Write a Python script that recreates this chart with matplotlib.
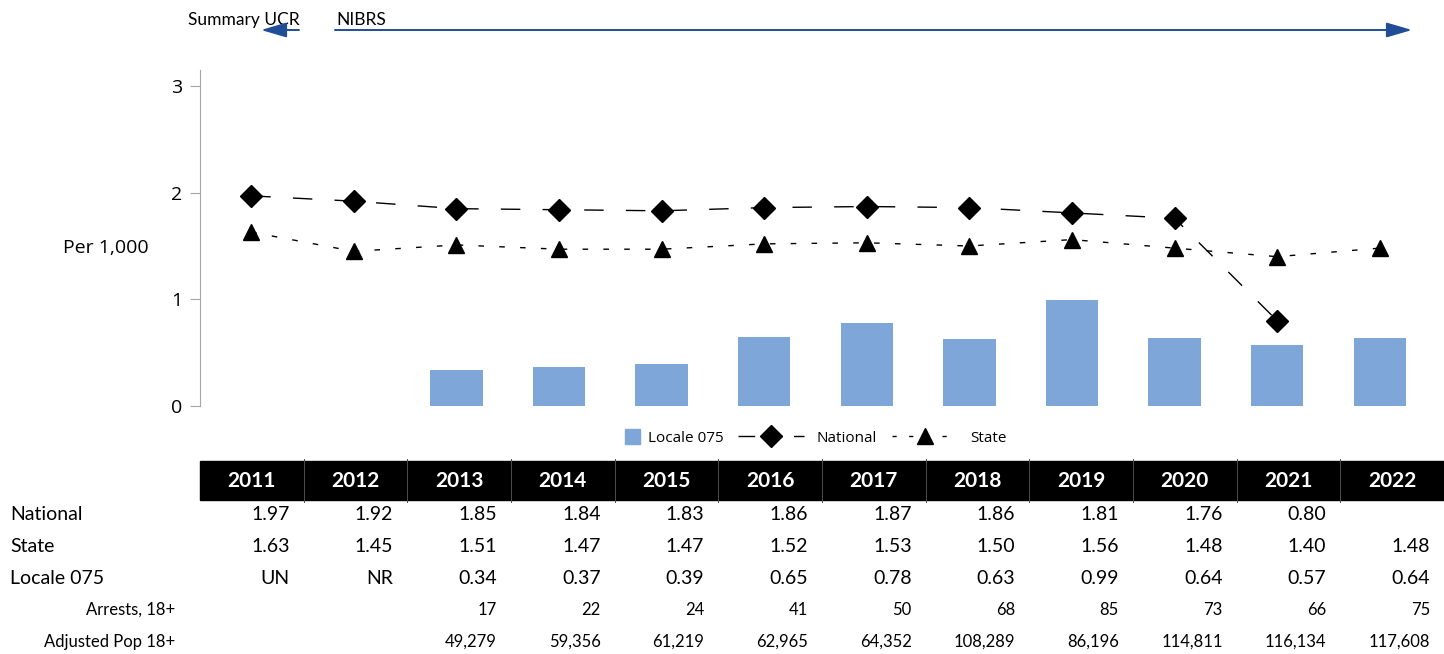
import matplotlib

matplotlib.use("Agg")
import matplotlib.pyplot as plt
import matplotlib.patches as mpatches
from matplotlib.legend_handler import HandlerPatch
from matplotlib.lines import Line2D

# chart data
YEARS = [2011, 2012, 2013, 2014, 2015, 2016, 2017, 2018, 2019, 2020, 2021, 2022]
NATIONAL = [1.97, 1.92, 1.85, 1.84, 1.83, 1.86, 1.87, 1.86, 1.81, 1.76, 0.80, None]
STATE = [1.63, 1.45, 1.51, 1.47, 1.47, 1.52, 1.53, 1.50, 1.56, 1.48, 1.40, 1.48]
LOCALE = [None, None, 0.34, 0.37, 0.39, 0.65, 0.78, 0.63, 0.99, 0.64, 0.57, 0.64]

# table rows (text as shown)
LOCALE_TXT = ["UN", "NR", "0.34", "0.37", "0.39", "0.65", "0.78", "0.63", "0.99",
              "0.64", "0.57", "0.64"]
ARRESTS = ["", "", "17", "22", "24", "41", "50", "68", "85", "73", "66", "75"]
ADJ_POP = ["", "", "49,279", "59,356", "61,219", "62,965", "64,352", "108,289",
           "86,196", "114,811", "116,134", "117,608"]

W, H = 1444, 654
BAR_COLOR = "#7EA6D8"
ARROW_COLOR = "#1F4E96"
AXIS_GRAY = "#A6A6A6"
TABLE_FONT = ["Lato", "DejaVu Sans"]
CHART_FONT = ["Open Sans", "DejaVu Sans"]


def fmt(v):
    return "" if v is None else f"{v:.2f}"


fig = plt.figure(figsize=(W / 100, H / 100), dpi=100)

# overlay in pixel coordinates for the table and annotations
ov = fig.add_axes([0, 0, 1, 1])
ov.set_xlim(0, W)
ov.set_ylim(H, 0)
ov.axis("off")

ax = fig.add_axes([200 / W, 1 - 406 / H, 1231 / W, 336 / H])
ax.set_facecolor("none")
x = list(range(len(YEARS)))

bx = [i for i, v in zip(x, LOCALE) if v is not None]
bv = [v for v in LOCALE if v is not None]
ax.bar(bx, bv, width=0.51, color=BAR_COLOR, zorder=1)

nx = [i for i, v in zip(x, NATIONAL) if v is not None]
nv = [v for v in NATIONAL if v is not None]
ax.plot(nx, nv, color="black", lw=1, dashes=(14, 16), marker="D", ms=11, zorder=3)
ax.plot(x, STATE, color="black", lw=1, dashes=(4, 11), marker="^", ms=12, zorder=3)

ax.set_xlim(-0.5, len(YEARS) - 0.5)
ax.set_ylim(0, 3.15)
ax.set_yticks([0, 1, 2, 3])
ax.set_xticks([])
for s in ("top", "right", "bottom"):
    ax.spines[s].set_visible(False)
ax.spines["left"].set_color(AXIS_GRAY)
ax.spines["left"].set_bounds(0, 3.15)
ax.tick_params(axis="y", direction="out", length=7, color=AXIS_GRAY,
               labelsize=14, pad=6)
for lab in ax.get_yticklabels():
    lab.set_fontfamily(CHART_FONT)

ov.text(106, 248, "Per 1,000", ha="center", va="center", fontsize=14,
        family=CHART_FONT)


def square_patch(legend, orig_handle, xdescent, ydescent, width, height, fontsize):
    # small square sitting at the right end of the handle slot, next to its label
    s = 11
    return mpatches.Rectangle((-xdescent + width - s + 3.4, -ydescent + (height - s) / 2),
                              s, s)


bar_proxy = mpatches.Rectangle((0, 0), 1, 1, color=BAR_COLOR)
nat_proxy = Line2D([], [], color="black", lw=1, dashes=(12, 8), marker="D", ms=11)
st_proxy = Line2D([], [], color="black", lw=1, dashes=(3, 9), marker="^", ms=12)
ax.legend([bar_proxy, nat_proxy, st_proxy], ["Locale 075", "National", "State"],
          loc="center left", bbox_to_anchor=(562 / W, 1 - 438 / H),
          bbox_transform=fig.transFigure, ncol=3, frameon=False, borderpad=0,
          handlelength=4.3, handletextpad=0.8, columnspacing=1.0,
          prop={"family": CHART_FONT, "size": 11},
          handler_map={bar_proxy: HandlerPatch(patch_func=square_patch)})

# top annotation: Summary UCR / NIBRS arrows
ov.text(188, 20, "Summary UCR", ha="left", va="center", fontsize=12.5, family=TABLE_FONT)
ov.text(336, 20, "NIBRS", ha="left", va="center", fontsize=12.5, family=TABLE_FONT)
arrow_style = "-|>,head_length=1.3,head_width=0.38"
ov.annotate("", xy=(261, 30), xytext=(299, 30),
            arrowprops=dict(arrowstyle=arrow_style, color=ARROW_COLOR, lw=1.4,
                            mutation_scale=12, shrinkA=0, shrinkB=0))
ov.annotate("", xy=(1412, 30), xytext=(335, 30),
            arrowprops=dict(arrowstyle=arrow_style, color=ARROW_COLOR, lw=1.4,
                            mutation_scale=12, shrinkA=0, shrinkB=0))

# data table
tab_left, tab_right = 200, W
col_w = (tab_right - tab_left) / len(YEARS)
ov.add_patch(mpatches.Rectangle((tab_left, 461), tab_right - tab_left, 39,
                                color="black", zorder=1))
for i in range(1, len(YEARS)):
    xb = tab_left + i * col_w
    ov.plot([xb, xb], [459, 502], color="#4D4D4D", lw=0.7, zorder=2)
for i, yr in enumerate(YEARS):
    ov.text(tab_left + (i + 0.5) * col_w, 481, str(yr), ha="center", va="center",
            color="white", fontsize=15, fontweight="bold", family=TABLE_FONT, zorder=3)

rows = [
    ("National", [fmt(v) for v in NATIONAL], 515, 14),
    ("State", [fmt(v) for v in STATE], 547, 14),
    ("Locale 075", LOCALE_TXT, 578, 14),
    ("Arrests, 18+", ARRESTS, 610, 12),
    ("Adjusted Pop 18+", ADJ_POP, 642, 12),
]
for label, vals, yy, fs in rows:
    if fs > 13:
        ov.text(10, yy, label, ha="left", va="center", fontsize=fs, family=TABLE_FONT)
    else:
        ov.text(175, yy, label, ha="right", va="center", fontsize=fs, family=TABLE_FONT)
    for i, v in enumerate(vals):
        ov.text(tab_left + (i + 1) * col_w - 14, yy, v, ha="right", va="center",
                fontsize=fs, family=TABLE_FONT)

fig.savefig("out.png", dpi=100)
